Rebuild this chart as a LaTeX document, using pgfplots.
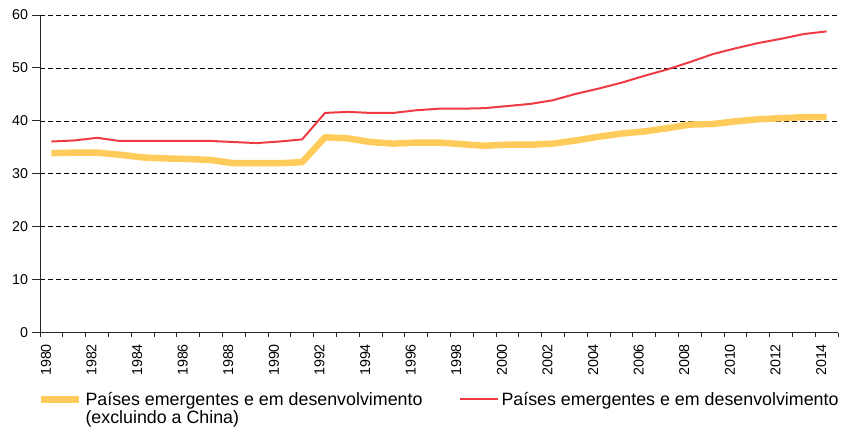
\documentclass[border=0pt]{standalone}
\usepackage{fontspec}
\setmainfont{Liberation Sans}
\usepackage{pgfplots}
\pgfplotsset{compat=1.18}
\definecolor{redline}{HTML}{EE3A43}
\definecolor{yellowline}{HTML}{FFCC5C}

\pgfplotstableread{
year val
1980 33.9
1981 34.0
1982 34.0
1983 33.6
1984 33.1
1985 32.9
1986 32.8
1987 32.6
1988 32.0
1989 32.0
1990 32.0
1991 32.2
1992 36.9
1993 36.7
1994 36.0
1995 35.7
1996 35.9
1997 35.9
1998 35.6
1999 35.3
2000 35.5
2001 35.5
2002 35.7
2003 36.3
2004 37.0
2005 37.6
2006 38.0
2007 38.6
2008 39.3
2009 39.4
2010 39.9
2011 40.3
2012 40.5
2013 40.7
2014 40.7
}\exchina

\pgfplotstableread{
year val
1980 36.1
1981 36.3
1982 36.8
1983 36.2
1984 36.2
1985 36.2
1986 36.2
1987 36.2
1988 36.0
1989 35.8
1990 36.1
1991 36.5
1992 41.5
1993 41.7
1994 41.5
1995 41.5
1996 42.0
1997 42.3
1998 42.3
1999 42.4
2000 42.8
2001 43.2
2002 43.9
2003 45.1
2004 46.1
2005 47.2
2006 48.5
2007 49.7
2008 51.1
2009 52.6
2010 53.7
2011 54.7
2012 55.5
2013 56.4
2014 56.9
}\allcountries

\begin{document}
\begin{tikzpicture}
\begin{axis}[
  at={(0,0)}, anchor=south west,
  scale only axis, width=798bp, height=317.6bp,
  xmin=1979.5, xmax=2014.5, ymin=0, ymax=60,
  axis x line=bottom, axis y line=left,
  axis line style={-, line width=1bp, black!85},
  xtick={1980,1982,...,2014},
  minor xtick={1979.5,1980.5,...,2014.5},
  ytick={0,10,...,60},
  tick align=outside,
  major tick length=8bp, minor tick length=4bp,
  major x tick style={draw=none},
  minor x tick style={line width=0.9bp, black!85},
  major y tick style={line width=0.9bp, black!85},
  ymajorgrids,
  major grid style={black, line width=0.7bp, dash pattern=on 4.5bp off 3.5bp},
  /pgf/number format/assume math mode=true,
  /pgf/number format/1000 sep={},
  xticklabel style={rotate=90, anchor=east, font=\fontsize{14.3}{16}\selectfont, yshift=5.5bp},
  yticklabel style={font=\fontsize{14.3}{16}\selectfont, xshift=-0.5bp},
  legend columns=2,
  legend cell align=left,
  legend image code/.code={\draw[#1] (0bp,6.3bp) -- (38bp,6.3bp);},
  legend style={at={(rel axis cs:0,0)}, anchor=north west, xshift=-2bp, yshift=-60bp,
    draw=none, fill=none, inner sep=0pt, outer sep=0pt,
    font=\fontsize{17.9}{15.3}\selectfont,
    cells={anchor=base west},
    nodes={inner sep=0pt},
    /tikz/every odd column/.append style={column sep=3bp},
    /tikz/every even column/.append style={column sep=36bp}},
]
\addplot[yellowline, line width=6.5bp, line join=round] table[x=year, y=val] {\exchina};
\addlegendentry{\begin{tabular}[t]{@{}l@{}}Países emergentes e em desenvolvimento\\(excluindo a China)\end{tabular}}
\addplot[redline, line width=2bp, line join=round] table[x=year, y=val] {\allcountries};
\addlegendentry{Países emergentes e em desenvolvimento}
\end{axis}
\pgfresetboundingbox
\path (-40bp,-97.4bp) rectangle (801bp,332.6bp);
\end{tikzpicture}
\end{document}
